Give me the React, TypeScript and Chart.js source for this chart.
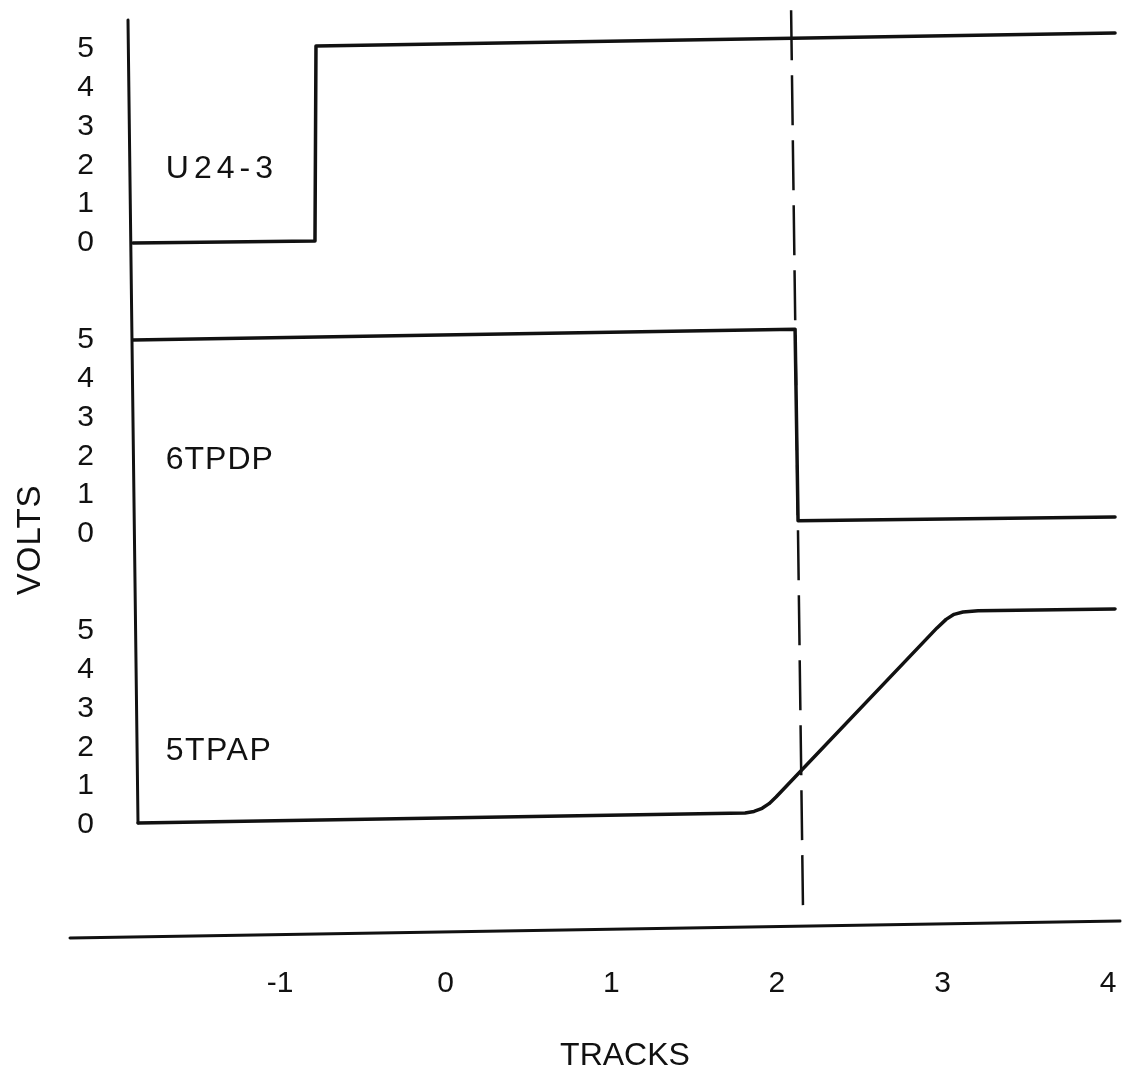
import { useEffect, useRef } from 'react';
import { Chart, registerables } from 'chart.js';

Chart.register(...registerables);

// ---- data (x in tracks, y in volts) ----
const xTickValues = [-1, 0, 1, 2, 3, 4];
const voltTickValues = [0, 1, 2, 3, 4, 5];
const seriesNames = ['U24-3', '6TPDP', '5TPAP'];

const u24Tracks = [-1.888, -0.789, -0.783, 4.042];
const u24Volts = [0.0, 0.05, 5.08, 5.41];

const tpdpTracks = [-1.888, 2.11, 2.128, 4.042];
const tpdpVolts = [5.0, 5.28, 0.34, 0.44];

const tpapTracks = [-1.857, 1.808, 1.862, 1.911, 1.953, 1.995, 2.967, 3.022, 3.07, 3.124, 3.215, 4.042];
const tpapVolts = [0.05, 0.31, 0.35, 0.43, 0.55, 0.72, 5.08, 5.3, 5.43, 5.49, 5.52, 5.57];

// dashed marker line (tracks, stacked-axis units)
const markerTracks = [2.086, 2.158];
const markerLevels = [21.0, -2.2];

// ---- layout / style ----
const INK = '#111111';
const FONT = '"Liberation Sans", Arial, sans-serif';
const panelOffsets = [15, 7.5, 0]; // vertical stacking of the three traces
const labelTrack = -1.69;
const labelVolt = 1.9;
const labelSpacing = ['5px', '1px', '1.5px'];

const traceSeries = [
  { t: u24Tracks, v: u24Volts },
  { t: tpdpTracks, v: tpdpVolts },
  { t: tpapTracks, v: tpapVolts },
];

const yTickValues = panelOffsets.flatMap((o) => voltTickValues.map((v) => o + v));

const decorPlugin = {
  id: 'decor',
  afterDatasetsDraw(chart: any) {
    const { ctx, chartArea, scales } = chart;
    const xs = scales.x;
    const ys = scales.y;
    ctx.save();
    ctx.strokeStyle = INK;
    ctx.lineWidth = 3;
    ctx.lineCap = 'round';
    // vertical axis line
    ctx.beginPath();
    ctx.moveTo(chartArea.left - 2, ys.getPixelForValue(20.75));
    ctx.lineTo(chartArea.left + 8, ys.getPixelForValue(0.05));
    ctx.stroke();
    // horizontal axis line
    ctx.beginPath();
    ctx.moveTo(chartArea.left - 60, chartArea.bottom + 8);
    ctx.lineTo(chartArea.right, chartArea.bottom - 9);
    ctx.stroke();
    // trace names
    ctx.fillStyle = INK;
    ctx.font = `32px ${FONT}`;
    ctx.textBaseline = 'middle';
    ctx.textAlign = 'left';
    seriesNames.forEach((name, i) => {
      ctx.letterSpacing = labelSpacing[i];
      ctx.fillText(
        name,
        xs.getPixelForValue(labelTrack),
        ys.getPixelForValue(panelOffsets[i] + labelVolt)
      );
    });
    // axis title VOLTS
    ctx.letterSpacing = '1px';
    ctx.font = `33px ${FONT}`;
    ctx.translate(31, ys.getPixelForValue(panelOffsets[1] - 0.15));
    ctx.rotate(-Math.PI / 2);
    ctx.textAlign = 'center';
    ctx.fillText('VOLTS', 0, 0);
    ctx.restore();
  },
};

export default function App() {
  const ref = useRef<HTMLCanvasElement>(null);
  useEffect(() => {
    const datasets: any[] = traceSeries.map((s, i) => ({
      label: seriesNames[i],
      data: s.t.map((t, k) => ({ x: t, y: s.v[k] + panelOffsets[i] })),
      borderColor: INK,
      borderWidth: 3.5,
      pointRadius: 0,
      pointHoverRadius: 0,
      tension: 0,
      borderJoinStyle: 'round',
      borderCapStyle: 'round',
      fill: false,
    }));
    datasets.push({
      label: 'marker',
      data: markerTracks.map((t, k) => ({ x: t, y: markerLevels[k] })),
      borderColor: INK,
      borderWidth: 2.5,
      borderDash: [50, 15],
      pointRadius: 0,
      pointHoverRadius: 0,
      fill: false,
      clip: false,
    });
    const chart = new Chart(ref.current as HTMLCanvasElement, {
      type: 'line',
      data: { datasets },
      plugins: [decorPlugin],
      options: {
        responsive: false,
        animation: false,
        layout: { autoPadding: false, padding: { top: 8, right: 2, left: 0, bottom: 0 } },
        plugins: { legend: { display: false }, tooltip: { enabled: false } },
        scales: {
          x: {
            type: 'linear',
            min: -1.906,
            max: 4.072,
            grid: { display: false, drawTicks: false },
            border: { display: false },
            afterBuildTicks: (s: any) => {
              s.ticks = xTickValues.map((v) => ({ value: v }));
            },
            afterFit: (s: any) => {
              s.height = 151;
              s.paddingLeft = 0;
              s.paddingRight = 0;
            },
            ticks: {
              font: { family: FONT, size: 30 },
              color: INK,
              padding: 36,
              autoSkip: false,
              maxRotation: 0,
              callback: (v: any) => String(v),
            },
            title: {
              display: true,
              text: 'TRACKS',
              color: INK,
              font: { family: FONT, size: 32 },
              padding: { top: 0, bottom: 6 },
            },
          },
          y: {
            type: 'linear',
            min: -2.706,
            max: 21.057,
            grid: { display: false, drawTicks: false },
            border: { display: false },
            afterBuildTicks: (s: any) => {
              s.ticks = yTickValues.map((v) => ({ value: v }));
            },
            afterFit: (s: any) => {
              s.width = 130;
              s.paddingTop = 0;
              s.paddingBottom = 0;
            },
            ticks: {
              font: { family: FONT, size: 30 },
              color: INK,
              padding: 36,
              crossAlign: 'center',
              autoSkip: false,
              callback: (v: any) => {
                const val = Number(v);
                const off = panelOffsets.find((o) => val >= o - 0.01 && val <= o + 5.01) ?? 0;
                return String(Math.round(val - off));
              },
            },
          },
        },
      } as any,
    });
    return () => chart.destroy();
  }, []);
  return (
    <div style={{ position: 'absolute', left: 0, top: 0, width: 1122, height: 1081, background: '#fff' }}>
      <canvas ref={ref} width={1122} height={1081} style={{ display: 'block' }} />
    </div>
  );
}
